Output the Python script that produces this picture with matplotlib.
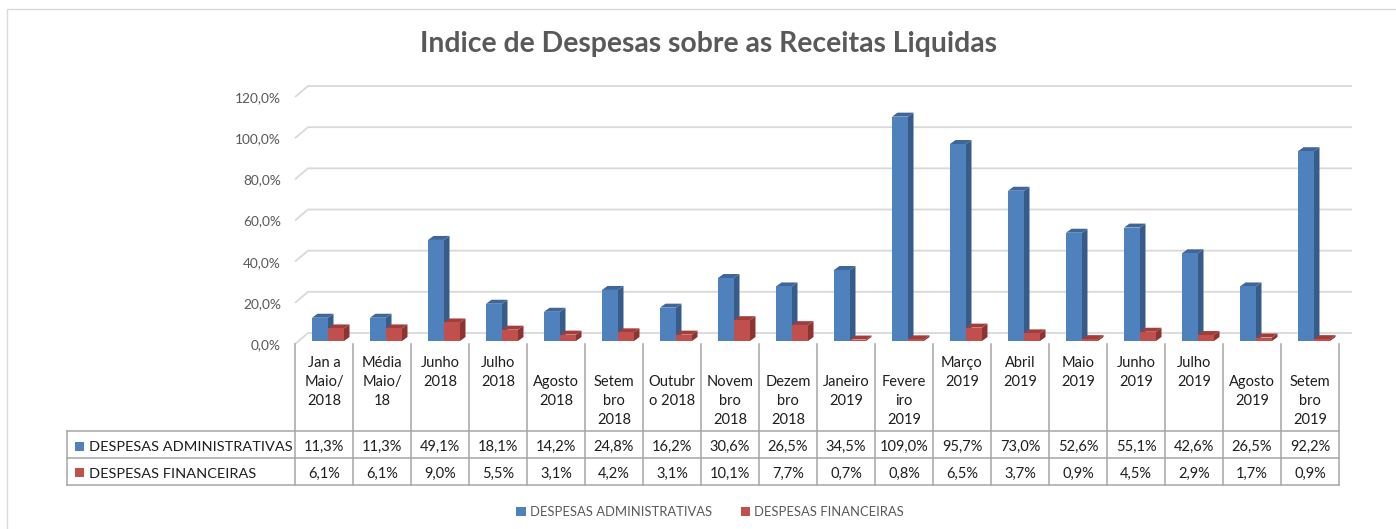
import numpy as np
import matplotlib
matplotlib.use("Agg")
import matplotlib.pyplot as plt
from matplotlib.patches import Polygon, Rectangle, Patch
from matplotlib.transforms import blended_transform_factory

# ---------------- data ----------------
title = "Indice de Despesas sobre as Receitas Liquidas"
categories = ["Jan a\nMaio/\n2018", "Média\nMaio/\n18", "Junho\n2018", "Julho\n2018",
              "\nAgosto\n2018", "\nSetem\nbro\n2018", "\nOutubr\no 2018", "\nNovem\nbro\n2018",
              "\nDezem\nbro\n2018", "\nJaneiro\n2019", "\nFevere\niro\n2019", "Março\n2019",
              "Abril\n2019", "Maio\n2019", "Junho\n2019", "Julho\n2019", "\nAgosto\n2019",
              "\nSetem\nbro\n2019"]
series_names = ["DESPESAS ADMINISTRATIVAS", "DESPESAS FINANCEIRAS"]
adm = [11.3, 11.3, 49.1, 18.1, 14.2, 24.8, 16.2, 30.6, 26.5, 34.5,
       109.0, 95.7, 73.0, 52.6, 55.1, 42.6, 26.5, 92.2]
fin = [6.1, 6.1, 9.0, 5.5, 3.1, 4.2, 3.1, 10.1, 7.7, 0.7,
       0.8, 6.5, 3.7, 0.9, 4.5, 2.9, 1.7, 0.9]
yticks = [0, 20, 40, 60, 80, 100, 120]

# ---------------- style ----------------
FONT = ["Lato", "DejaVu Sans"]
plt.rcParams["font.family"] = FONT
W, H = 1396, 529
DPI = 100
BLUE, BLUE_SIDE, BLUE_TOP = "#4F81BD", "#375C8A", "#3F669B"
RED, RED_SIDE, RED_TOP = "#C0504D", "#8C3432", "#A33D3A"
GRID = "#D9D9D9"
TBL = "#A6A6A6"
TXT = "#1E1E1E"
GRAY = "#595959"

fig = plt.figure(figsize=(W / DPI, H / DPI), dpi=DPI)
fig.patch.set_facecolor("white")

def fy(py):
    return 1 - py / H

def fx(px):
    return px / W

# outer chart border (cropped on right/bottom)
fig.patches.append(Rectangle((fx(6.5), -0.2), 1.2, fy(9.5) + 0.2, transform=fig.transFigure,
                             fill=False, edgecolor=GRID, lw=1.0))

AX_L, AX_R, AX_B, AX_T = 295, 1339, 344, 97
ax = fig.add_axes([fx(AX_L), fy(AX_B), (AX_R - AX_L) / W, (AX_B - AX_T) / H])
n = len(categories)
ax.set_xlim(-0.5, n - 0.5)
ax.set_ylim(0, 120)
for s in ax.spines.values():
    s.set_visible(False)
ax.set_xticks([])
ax.patch.set_alpha(0)

ux = n / (AX_R - AX_L)          # data units per pixel (x)
uy = 120 / (AX_B - AX_T)        # data units per pixel (y)

renderer = fig.canvas.get_renderer()

def fit_size(text, target_px, weight="normal", base=10):
    t = fig.text(0, 0, text, fontsize=base, fontweight=weight)
    w = t.get_window_extent(renderer).width
    t.remove()
    return base * target_px / w

# y ticks
ytick_fs = fit_size("120,0%", 46)
ax.set_yticks(yticks)
ax.set_yticklabels([f"{v:.1f}%".replace(".", ",") for v in yticks], color=GRAY, fontsize=ytick_fs)
ax.tick_params(axis="y", length=0, pad=(AX_L - 281) * 72 / DPI)

# gridlines on the back wall with slanted left edge
gdx, gdy = 13 * ux, 11 * uy
for g in yticks:
    ax.plot([-0.5, -0.5 + gdx, n - 0.5 + gdx], [g, g + gdy, g + gdy],
            color=GRID, lw=1.3, clip_on=False, zorder=1, solid_capstyle="butt")

# 3D bars
x = np.arange(n)
bw = 16 * ux
base = 3 * uy
ddx, ddy = 5.5 * ux, 4 * uy

def bars3d(xc, vals, front, side, top, z):
    ax.bar(xc, vals, width=bw, bottom=base, color=front, zorder=z + 0.2, linewidth=0)
    for xi, v in zip(xc, vals):
        l, r = xi - bw / 2, xi + bw / 2
        b, t = base, base + v
        ax.add_patch(Polygon([(r, b), (r, t), (r + ddx, t + ddy), (r + ddx, b + ddy)],
                             closed=True, facecolor=side, edgecolor="none", zorder=z))
        ax.add_patch(Polygon([(l, t), (r, t), (r + ddx, t + ddy), (l + ddx, t + ddy)],
                             closed=True, facecolor=top, edgecolor="none", zorder=z))

bars3d(x - 4 * ux, adm, BLUE, BLUE_SIDE, BLUE_TOP, 2)
bars3d(x + 12 * ux, fin, RED, RED_SIDE, RED_TOP, 3)

# ---------------- data table ----------------
bt = blended_transform_factory(ax.transData, fig.transFigure)
x_left = -0.5 - (AX_L - 67) * ux
ROW1, ROW2, ROW3 = 431, 458, 485
for k in range(n + 1):
    ax.plot([k - 0.5, k - 0.5], [fy(AX_B), fy(ROW3)], transform=bt, color=TBL, lw=1.1,
            clip_on=False, zorder=5)
for ry in (ROW1, ROW2, ROW3):
    ax.plot([x_left, n - 0.5], [fy(ry), fy(ry)], transform=bt, color=TBL, lw=1.1,
            clip_on=False, zorder=5)
ax.plot([x_left, x_left], [fy(ROW1), fy(ROW3)], transform=bt, color=TBL, lw=1.1,
        clip_on=False, zorder=5)

tbl_fs = fit_size("109,0%", 49)
for i, lab in enumerate(categories):
    ax.text(i, fy(356), lab, transform=bt, ha="center", va="top", fontsize=tbl_fs,
            color=TXT, linespacing=1.45, clip_on=False)
for i, (a, f) in enumerate(zip(adm, fin)):
    ax.text(i, fy(451), f"{a:.1f}%".replace(".", ","), transform=bt, ha="center",
            va="baseline", fontsize=tbl_fs, color=TXT, clip_on=False)
    ax.text(i, fy(477.5), f"{f:.1f}%".replace(".", ","), transform=bt, ha="center",
            va="baseline", fontsize=tbl_fs, color=TXT, clip_on=False)

row_fs = fit_size(series_names[0], 201)
for name, col, bl in ((series_names[0], BLUE, 451), (series_names[1], RED, 477.5)):
    fig.patches.append(Rectangle((fx(75), fy(bl - 0.5)), 9 / W, 9 / H,
                                 transform=fig.transFigure, facecolor=col, edgecolor="none"))
    fig.text(fx(89), fy(bl), name, ha="left", va="baseline", fontsize=row_fs, color=TXT)

# title
title_fs = fit_size(title, 580, weight="bold")
fig.text(fx(708), fy(44), title, ha="center", va="center", fontsize=title_fs,
         fontweight="bold", color=GRAY)

# legend
leg_fs = fit_size(series_names[0], 181)
handles = [Patch(facecolor=BLUE, edgecolor="none"), Patch(facecolor=RED, edgecolor="none")]
fig.legend(handles, series_names, loc="center", bbox_to_anchor=(fx(710), fy(512)), ncol=2,
           frameon=False, fontsize=leg_fs, handlelength=0.75, handleheight=0.75,
           handletextpad=0.3, columnspacing=2.2, labelcolor=GRAY)

fig.savefig("out.png", dpi=DPI)
